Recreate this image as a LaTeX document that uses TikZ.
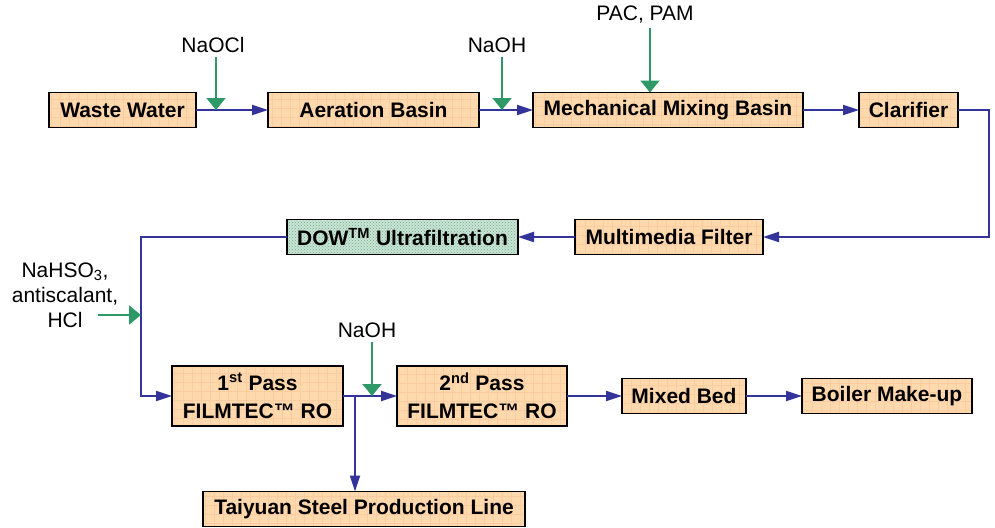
\documentclass[tikz,border=0pt]{standalone}
\usepackage{fontspec}
\setmainfont{Liberation Sans}
\usepackage{tikz}
\usetikzlibrary{arrows.meta,positioning,calc,patterns}
\usepackage{xcolor}

\definecolor{flowblue}{RGB}{51,51,153}
\definecolor{dosegreen}{RGB}{46,153,102}
\definecolor{boxfill}{RGB}{255,217,174}
\definecolor{boxgrid}{RGB}{250,204,160}
\definecolor{uffill}{RGB}{200,228,212}
\definecolor{ufdot}{RGB}{120,170,140}

\begin{document}
\begin{tikzpicture}[x=1pt,y=-1pt,
	box/.style={draw=black,line width=1.3pt,fill=boxfill,inner sep=0pt,outer sep=0pt,
		minimum height=35pt,align=center,font=\fontsize{21}{28}\selectfont\bfseries,
		path picture={\draw[boxgrid,line width=0.4pt] (path picture bounding box.south west)
			grid[step=9pt] (path picture bounding box.north east);}},
	ufbox/.style={fill=uffill,
		path picture={\fill[pattern=crosshatch dots,pattern color=ufdot] (path picture bounding box.south west)
			rectangle (path picture bounding box.north east);}},
	chem/.style={inner sep=4pt,align=center,font=\fontsize{21}{25}\selectfont},
	flow/.style={draw=flowblue,line width=2.2pt,-{Triangle[length=16pt,width=10pt]}},
	dose/.style={draw=dosegreen,line width=2pt,-{Triangle[length=12pt,width=19pt]}}]
	\useasboundingbox (0,0) rectangle (995,527);
	% top row
	\node[box,minimum width=147pt] (ww) at (122.5,110) {Waste Water};
	\node[box,minimum width=211pt] (ab) [right=72pt of ww] {Aeration Basin};
	\node[box,minimum width=270pt] (mm) [right=54pt of ab] {Mechanical Mixing Basin};
	\node[box,minimum width=99pt] (cl) [right=56pt of mm] {Clarifier};
	% middle row
	\node[box,minimum width=188pt] (mf) at (669,237) {Multimedia Filter};
	\node[box,ufbox,minimum width=231pt] (uf) [left=57pt of mf] {DOW\textsuperscript{TM} Ultrafiltration};
	% bottom row
	\node[box,minimum width=171pt,minimum height=60pt] (p1) at (257.5,396) {1\textsuperscript{st} Pass\\FILMTEC™ RO};
	\node[box,minimum width=170pt,minimum height=60pt] (p2) [right=54pt of p1] {2\textsuperscript{nd} Pass\\FILMTEC™ RO};
	\node[box,minimum width=124pt] (mb) [right=55pt of p2] {Mixed Bed};
	\node[box,minimum width=170pt] (bl) [right=56pt of mb] {Boiler Make-up};
	\node[box,minimum width=322pt] (ty) at (364,509) {Taiyuan Steel Production Line};
	% chemicals
	\node[chem] (naocl) at (213,45) {NaOCl};
	\node[chem] (naoh1) at (497,45) {NaOH};
	\node[chem] (pac) at (645,15) {PAC, PAM};
	\node[chem] (pre) at (65,295) {NaHSO\textsubscript{3},\\antiscalant,\\HCl};
	\node[chem] (naoh2) at (367,330) {NaOH};
	\coordinate (dose1) at (216,110);
	\coordinate (dose2) at (502,110);
	\coordinate (dose3) at ($(mm.north)+(-18,0)$);
	\coordinate (dose4) at (141,315);
	\coordinate (dose4s) at (98,315);
	\coordinate (dose5) at (372,396);
	\coordinate (split) at ($(p1.east)+(12,0)$);
	% water path
	\draw[flow] (ww) -- (ab);
	\draw[flow] (ab) -- (mm);
	\draw[flow] (mm) -- (cl);
	\draw[flow] (cl.east) -- ++(31,0) |- (mf.east);
	\draw[flow] (mf) -- (uf);
	\draw[flow] (uf.west) -- ++(-146,0) |- (p1.west);
	\draw[flow] (p1) -- (p2);
	\draw[flow] (split) -- (split |- ty.north);
	\draw[flow] (p2) -- (mb);
	\draw[flow] (mb) -- (bl);
	% dosing
	\draw[dose] (naocl.south -| dose1) -- (dose1);
	\draw[dose] (naoh1.south -| dose2) -- (dose2);
	\draw[dose] (pac.south -| dose3) -- (dose3);
	\draw[dose] (dose4s) -- (dose4);
	\draw[dose] (naoh2.south -| dose5) -- (dose5);
\end{tikzpicture}
\end{document}
